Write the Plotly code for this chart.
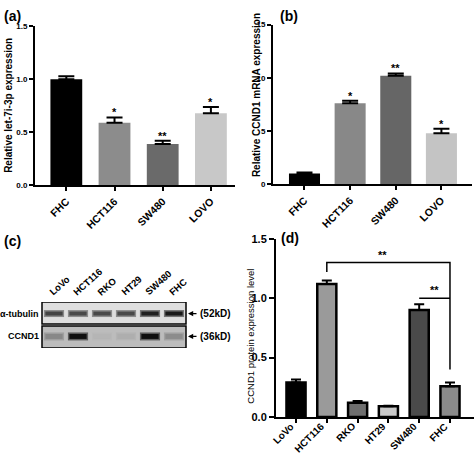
import plotly.graph_objects as go

FONT = "Liberation Sans, Arial, sans-serif"

# ---- Panel (a) data ----
a_cats = ["FHC", "HCT116", "SW480", "LOVO"]
a_vals = [1.00, 0.59, 0.39, 0.68]
a_errs = [0.03, 0.05, 0.03, 0.06]
a_stars = ["", "*", "**", "*"]
a_colors = ["#000000", "#8c8c8c", "#6a6a6a", "#c8c8c8"]
a_title = "Relative let-7i-3p expression"

# ---- Panel (b) data ----
b_cats = ["FHC", "HCT116", "SW480", "LOVO"]
b_vals = [1.0, 7.6, 10.2, 4.8]
b_errs = [0.1, 0.25, 0.2, 0.4]
b_stars = ["", "*", "**", "*"]
b_colors = ["#000000", "#888888", "#666666", "#c4c4c4"]
b_title = "Relative CCND1 mRNA expression"

# ---- Panel (c) blot data ----
c_lanes = ["LoVo", "HCT116", "RKO", "HT29", "SW480", "FHC"]
c_tubulin = [0.75, 0.72, 0.72, 0.72, 0.92, 0.95]
c_ccnd1 = [0.30, 1.00, 0.04, 0.08, 1.00, 0.28]
c_rows = ["α-tubulin", "CCND1"]
c_sizes = ["(52kD)", "(36kD)"]

# ---- Panel (d) data ----
d_cats = ["LoVo", "HCT116", "RKO", "HT29", "SW480", "FHC"]
d_vals = [0.29, 1.12, 0.12, 0.09, 0.90, 0.26]
d_errs = [0.025, 0.03, 0.015, 0.005, 0.05, 0.03]
d_colors = ["#000000", "#9a9a9a", "#6e6e6e", "#c8c8c8", "#4a4a4a", "#8a8a8a"]
d_brackets = [("HCT116", "FHC", 1.30, 1.22, 0.40), ("SW480", "FHC", 1.00, None, None)]
d_bracket_text = ["**", "**"]
d_title = "CCND1 protein expression level"

fig = go.Figure()

def bar_panel(cats, vals, errs, colors, xa, ya, width, cap, line_w=0, edge="#000000"):
    fig.add_trace(go.Bar(
        x=list(range(len(cats))), y=vals, width=width,
        marker=dict(color=colors, line=dict(color=edge, width=line_w)),
        error_y=dict(type="data", array=errs, arrayminus=[0] * len(errs), symmetric=False,
                     color="#000000", thickness=2, width=cap),
        xaxis=xa, yaxis=ya, showlegend=False, hoverinfo="skip"))

bar_panel(a_cats, a_vals, a_errs, a_colors, "x", "y", 0.66, 8)
bar_panel(b_cats, b_vals, b_errs, b_colors, "x2", "y2", 0.68, 8)
bar_panel(d_cats, d_vals, d_errs, d_colors, "x3", "y3", 0.62, 5, line_w=2.5)

annotations = []
for cats, vals, errs, stars, xr, yr in [(a_cats, a_vals, a_errs, a_stars, "x", "y"),
                                        (b_cats, b_vals, b_errs, b_stars, "x2", "y2")]:
    for i, s in enumerate(stars):
        if s:
            annotations.append(dict(x=i, y=vals[i] + errs[i], xref=xr, yref=yr, text="<b>%s</b>" % s,
                                    showarrow=False, yanchor="bottom", yshift=-3,
                                    font=dict(family=FONT, size=11, color="#000")))

# x tick labels of panel (d), placed as rotated text right under the axis
for i, c in enumerate(d_cats):
    annotations.append(dict(x=i + 0.08, y=0, xref="x3", yref="y3", text="<b>%s</b>" % c,
                            textangle=-45, showarrow=False, xanchor="right", yanchor="top",
                            yshift=-1, font=dict(family=FONT, size=10, color="#000")))

# brackets panel (d)
for k, (c1, c2, ytop, yl, yr_) in enumerate(d_brackets):
    i1, i2 = d_cats.index(c1), d_cats.index(c2)
    xs, ys = [], []
    if yl is not None:
        xs += [i1]; ys += [yl]
    xs += [i1, i2]; ys += [ytop, ytop]
    if yr_ is not None:
        xs += [i2]; ys += [yr_]
    fig.add_trace(go.Scatter(x=xs, y=ys, mode="lines", line=dict(color="#000", width=1.5),
                             xaxis="x3", yaxis="y3", showlegend=False, hoverinfo="skip"))
    annotations.append(dict(x=(i1 + i2) / 2 + (0.0 if k else -0.2), y=ytop, xref="x3", yref="y3",
                            text="<b>%s</b>" % d_bracket_text[k], showarrow=False, yanchor="bottom",
                            yshift=0, font=dict(family=FONT, size=11, color="#000")))

# ---- Blot (c) ----
def gray(level, lo=200, hi=15):
    v = int(round(lo + (hi - lo) * level))
    return f"rgb({v},{v},{v})"

for i in range(len(c_lanes)):
    xc = i + 0.5
    for yv, inten, bg, w in [(1.5, c_tubulin[i], 222, 4), (0.5, c_ccnd1[i], 188, 5)]:
        fig.add_trace(go.Scatter(x=[xc - 0.42, xc + 0.42], y=[yv, yv], mode="lines",
                                 line=dict(color=gray(inten * 0.55, bg), width=w + 3),
                                 xaxis="x4", yaxis="y4", showlegend=False, hoverinfo="skip"))
        fig.add_trace(go.Scatter(x=[xc - 0.36, xc + 0.36], y=[yv, yv], mode="lines",
                                 line=dict(color=gray(inten, bg), width=w),
                                 xaxis="x4", yaxis="y4", showlegend=False, hoverinfo="skip"))

shapes = [
    dict(type="rect", xref="x4 domain", yref="y4", x0=0, x1=1, y0=1.04, y1=2.0,
         fillcolor="#dedede", line=dict(color="#000", width=1.5), layer="below"),
    dict(type="rect", xref="x4 domain", yref="y4", x0=0, x1=1, y0=0.0, y1=0.96,
         fillcolor="#bcbcbc", line=dict(color="#000", width=1.5), layer="below"),
]

for i, lab in enumerate(c_lanes):
    annotations.append(dict(x=i + 0.1, y=2.0, xref="x4", yref="y4", text="<b>%s</b>" % lab,
                            textangle=-42, showarrow=False, xanchor="left", yanchor="bottom",
                            yshift=2, font=dict(family=FONT, size=9.5, color="#000")))
for yv, row, sz in [(1.5, c_rows[0], c_sizes[0]), (0.5, c_rows[1], c_sizes[1])]:
    annotations.append(dict(x=0, y=yv, xref="x4 domain", yref="y4", text="<b>%s</b>" % row,
                            showarrow=False, xanchor="right", xshift=-1,
                            font=dict(family=FONT, size=9, color="#000")))
    annotations.append(dict(x=1, y=yv, xref="x4 domain", yref="y4", text="",
                            showarrow=True, ax=12, ay=0, axref="pixel", arrowhead=2,
                            arrowsize=0.8, arrowwidth=1.3, arrowcolor="#000",
                            standoff=2))
    annotations.append(dict(x=1, y=yv, xref="x4 domain", yref="y4", text="<b>%s</b>" % sz,
                            showarrow=False, xanchor="left", xshift=12,
                            font=dict(family=FONT, size=10, color="#000")))

# panel letters
for lab, px, py in [("(a)", 2, 0), ("(b)", 278, 0), ("(c)", 2, 231), ("(d)", 279, 228)]:
    annotations.append(dict(x=px / 474, y=1 - py / 462, xref="paper", yref="paper",
                            text="<b>%s</b>" % lab, showarrow=False, xanchor="left", yanchor="top",
                            font=dict(family=FONT, size=14, color="#000")))

# y-axis titles (rotated, left edge of the rotated box given in pixels)
for title, lx, cy, size, bold in [(a_title, 1, 102, 10, True), (b_title, 249, 92, 10, True),
                                  (d_title, 243, 339, 9.5, False)]:
    annotations.append(dict(x=lx / 474, y=1 - cy / 462, xref="paper", yref="paper",
                            text=("<b>%s</b>" % title) if bold else title, textangle=-90,
                            showarrow=False, xanchor="left", yanchor="middle",
                            font=dict(family=FONT, size=size, color="#000")))

def xaxis(domain, cats, rng, size, anchor, ticklen=4, labels=True):
    return dict(domain=domain, anchor=anchor, range=rng, tickmode="array",
                tickvals=list(range(len(cats))),
                ticktext=["<b>%s</b>" % c for c in cats] if labels else [""] * len(cats),
                tickangle=-45, ticks="outside", ticklen=ticklen, tickwidth=1.5, tickcolor="#000",
                showline=True, linecolor="#000", linewidth=2, showgrid=False, zeroline=False,
                tickfont=dict(family=FONT, size=size, color="#000"))

def yaxis(domain, rng, dtick, fmt, size, anchor, ticklen=4):
    return dict(domain=domain, anchor=anchor, range=rng, dtick=dtick, tickformat=fmt,
                ticks="outside", ticklen=ticklen, tickwidth=1.5, tickcolor="#000",
                showline=True, linecolor="#000", linewidth=2, showgrid=False, zeroline=False,
                tickprefix="<b>", ticksuffix="</b>",
                tickfont=dict(family=FONT, size=size, color="#000"))

fig.update_layout(
    width=474, height=462, margin=dict(l=0, r=0, t=0, b=0),
    paper_bgcolor="#fff", plot_bgcolor="rgba(0,0,0,0)", font=dict(family=FONT),
    hovermode=False,
    xaxis=xaxis([35 / 474, 235 / 474], a_cats, [-0.65, 3.5], 10.5, "y"),
    yaxis=yaxis([1 - 184 / 462, 1 - 21 / 462], [0, 1.5], 0.5, ".1f", 8, "x"),
    xaxis2=xaxis([273 / 474, 472 / 474], b_cats, [-0.69, 3.67], 10.5, "y2"),
    yaxis2=yaxis([1 - 183 / 462, 1 - 19 / 462], [0, 15], 5, "d", 8, "x2"),
    xaxis3=xaxis([276 / 474, 1.0], d_cats, [-0.65, 5.78], 10, "y3", ticklen=4, labels=False),
    yaxis3=yaxis([1 - 422 / 462, 1 - 239 / 462], [0, 1.5], 0.5, ".1f", 11, "x3", ticklen=5),
    xaxis4=dict(domain=[42 / 474, 186 / 474], anchor="y4", range=[0, 6], visible=False),
    yaxis4=dict(domain=[1 - 351 / 462, 1 - 304 / 462], anchor="x4", range=[0, 2], visible=False),
    shapes=shapes, annotations=annotations,
)

fig.write_html("out.html", config={"displayModeBar": False},
               post_script="document.body.style.margin='0';document.body.style.padding='0';"
                           "document.body.style.overflow='hidden';")
